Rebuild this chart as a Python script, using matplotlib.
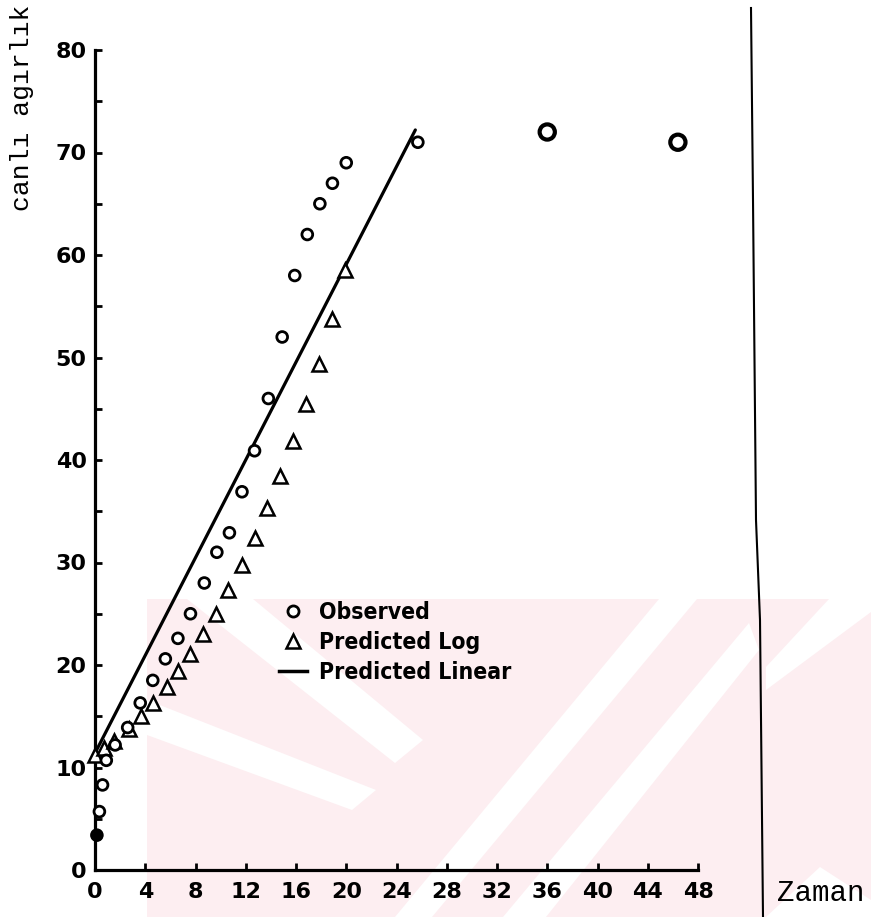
import matplotlib
matplotlib.use("Agg")
import matplotlib.pyplot as plt
import numpy as np
from matplotlib import font_manager
from matplotlib.lines import Line2D
from matplotlib.patches import Polygon

# Observed live weight (circles)
obs_x = [0.15, 0.35, 0.6, 0.9, 1.6, 2.6, 3.6, 4.6, 5.6, 6.6, 7.6, 8.7, 9.7,
         10.7, 11.7, 12.7, 13.8, 14.9, 15.9, 16.9, 17.9, 18.9, 20.0, 25.7, 36.0, 46.4]
obs_y = [3.4, 5.7, 8.3, 10.7, 12.2, 13.9, 16.3, 18.5, 20.6, 22.6, 25.0, 28.0, 31.0,
         32.9, 36.9, 40.9, 46.0, 52.0, 58.0, 62.0, 65.0, 67.0, 69.0, 71.0, 72.0, 71.0]

# Predicted by the log model (triangles)
log_x = [0.0, 0.7, 1.5, 2.7, 3.7, 4.6, 5.7, 6.6, 7.6, 8.6, 9.6, 10.6, 11.7,
         12.7, 13.7, 14.7, 15.8, 16.8, 17.8, 18.9, 19.9]
log_y = [11.2, 11.9, 12.6, 13.8, 15.0, 16.3, 17.9, 19.4, 21.1, 23.0, 25.0, 27.3, 29.8,
         32.4, 35.3, 38.4, 41.9, 45.5, 49.4, 53.8, 58.5]

# Predicted by the linear model (straight line)
lin_x = [0.0, 25.5]
lin_y = [11.4, 72.2]

x_ticks = list(range(0, 49, 4))
y_ticks = list(range(0, 81, 10))
legend_labels = ["Observed", "Predicted Log", "Predicted Linear"]

W, H = 871, 917
fig = plt.figure(figsize=(W / 100, H / 100), dpi=100)
fig.patch.set_facecolor("white")

def px(x, y):
    # figure pixel (top-left origin) -> figure fraction
    return (x / W, 1 - y / H)

# faint pink watermark in the lower part of the page
pink = "#fdeef1"
fig.patches.append(Polygon([px(147, 599), px(871, 599), px(871, 917), px(147, 917)],
                           closed=True, transform=fig.transFigure, facecolor=pink,
                           edgecolor="none", zorder=-10))
white_stripes = [
    [(187, 599), (253, 599), (423, 740), (395, 763)],
    [(147, 700), (147, 735), (352, 810), (376, 790)],
    [(659, 599), (697, 599), (432, 917), (395, 917)],
    [(749, 623), (759, 650), (546, 917), (503, 917)],
    [(829, 599), (871, 599), (871, 612), (766, 690), (766, 667)],
    [(820, 867), (871, 900), (871, 917), (766, 917)],
]
for s in white_stripes:
    fig.patches.append(Polygon([px(*p) for p in s], closed=True,
                               transform=fig.transFigure, facecolor="white",
                               edgecolor="none", zorder=-9))

# page edge line of the scan
edge = [(751, 8), (753, 200), (756, 520), (760, 620), (763, 917)]
fig.add_artist(Line2D([px(*p)[0] for p in edge], [px(*p)[1] for p in edge],
                      transform=fig.transFigure, color="black", lw=1.5))

ax = fig.add_axes([95 / W, (H - 870) / H, 603 / W, 820 / H])
ax.set_facecolor("none")

# linear prediction
ax.plot(lin_x, lin_y, color="black", lw=2.3, solid_capstyle="round", zorder=2)

# log prediction
ax.plot(log_x, log_y, linestyle="none", marker="^", markersize=10,
        markerfacecolor="white", markeredgecolor="black", markeredgewidth=1.8,
        clip_on=False, zorder=3)

# observed
ox = np.array(obs_x)
sizes = np.where(ox > 30, 120, 60)
ax.scatter(obs_x, obs_y, s=sizes, marker="o", facecolor="white", edgecolor="black",
           linewidths=np.where(ox > 30, 3.0, 2.0), clip_on=False, zorder=4)
ax.scatter(obs_x[:1], obs_y[:1], s=50, color="black", clip_on=False, zorder=5)

ax.set_xlim(0, 48)
ax.set_ylim(0, 80)
ax.set_xticks(x_ticks)
ax.set_yticks(y_ticks)
ax.set_yticks(np.arange(5, 80, 10), minor=True)
for s in ["top", "right"]:
    ax.spines[s].set_visible(False)
for s in ["left", "bottom"]:
    ax.spines[s].set_linewidth(2.3)
ax.tick_params(which="both", direction="in", length=5, width=2, colors="black")
ax.tick_params(axis="y", pad=6)
ax.tick_params(axis="x", pad=9)
for lab in ax.get_xticklabels() + ax.get_yticklabels():
    lab.set_fontsize(16)
    lab.set_fontweight("bold")

# legend in a condensed bold face when available
fonts = font_manager.fontManager.ttflist
names = {f.name for f in fonts}
if "Liberation Sans Narrow" in names:
    leg_prop = {"family": "Liberation Sans Narrow", "weight": "bold", "size": 17}
elif any(f.name == "DejaVu Sans" and f.stretch == "condensed" for f in fonts):
    leg_prop = {"family": "DejaVu Sans", "weight": "bold", "size": 16.5, "stretch": "condensed"}
else:
    leg_prop = {"family": "DejaVu Sans", "weight": "bold", "size": 14.5}
handles = [
    Line2D([], [], linestyle="none", marker="o", markersize=8, markerfacecolor="white",
           markeredgecolor="black", markeredgewidth=2),
    Line2D([], [], linestyle="none", marker="^", markersize=10, markerfacecolor="white",
           markeredgecolor="black", markeredgewidth=1.8),
    Line2D([], [], color="black", lw=2.5),
]
ax.legend(handles, legend_labels, loc="upper left", bbox_to_anchor=px(279, 601),
          bbox_transform=fig.transFigure, frameon=False, handlelength=1.2,
          handletextpad=0.55, labelspacing=0.3, borderpad=0, borderaxespad=0,
          prop=leg_prop)

# axis titles (typewritten)
fig.text(*px(22, 108), "canlı agırlık", rotation=90, ha="center", va="center",
         family="Liberation Mono", fontsize=19)
fig.text(*px(821, 893), "Zaman", ha="center", va="center",
         family="Liberation Mono", fontsize=21)

fig.savefig("out.png", dpi=100)
